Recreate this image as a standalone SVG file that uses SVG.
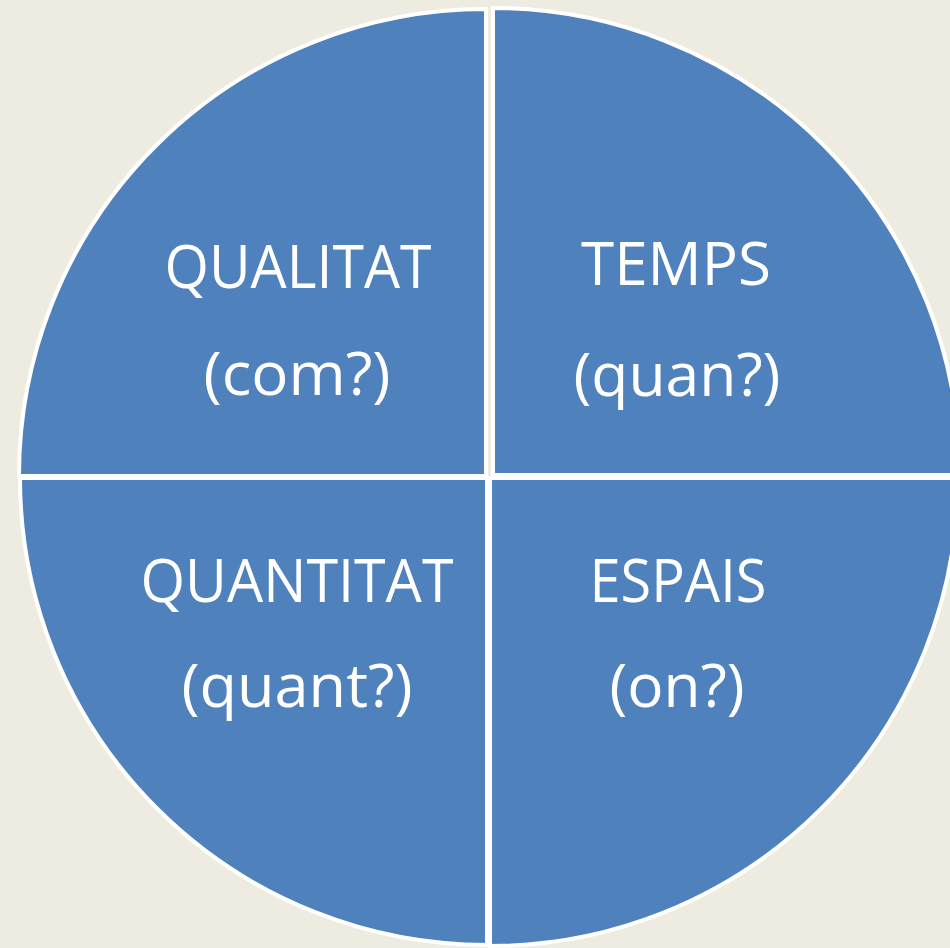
<svg xmlns="http://www.w3.org/2000/svg" width="950" height="948" viewBox="0 0 950 948">
<style>
.q{fill:#4F81BD;stroke:#FFFFFF;stroke-width:4;stroke-linejoin:miter}
.t{fill:#FFFFFF;font-family:"Open Sans","Liberation Sans",sans-serif;font-size:60px;text-anchor:middle}
</style>
<rect x="0" y="0" width="950" height="948" fill="#EEECE1"/>
<g id="qualitat">
<path class="q" d="M486,476 L486,9 A467,467 0 0 0 19,476 Z"/>
<text class="t" x="298" y="288" textLength="267" lengthAdjust="spacingAndGlyphs">QUALITAT</text>
<text class="t" x="297" y="395" textLength="187" lengthAdjust="spacingAndGlyphs">(com?)</text>
</g>
<g id="temps">
<path class="q" d="M493,475 L960,475 A467,467 0 0 0 493,8 Z"/>
<text class="t" x="676" y="285" textLength="190" lengthAdjust="spacingAndGlyphs">TEMPS</text>
<text class="t" x="677" y="396" textLength="207" lengthAdjust="spacingAndGlyphs">(quan?)</text>
</g>
<g id="quantitat">
<path class="q" d="M487,478 L20,478 A467,467 0 0 0 487,945 Z"/>
<text class="t" x="297" y="602" textLength="313" lengthAdjust="spacingAndGlyphs">QUANTITAT</text>
<text class="t" x="297" y="707" textLength="231" lengthAdjust="spacingAndGlyphs">(quant?)</text>
</g>
<g id="espais">
<path class="q" d="M490,478 L490,946 A468,468 0 0 0 958,478 Z"/>
<text class="t" x="678" y="602" textLength="177" lengthAdjust="spacingAndGlyphs">ESPAIS</text>
<text class="t" x="677" y="707" textLength="135" lengthAdjust="spacingAndGlyphs">(on?)</text>
</g>
<g id="connectors"></g>
</svg>
